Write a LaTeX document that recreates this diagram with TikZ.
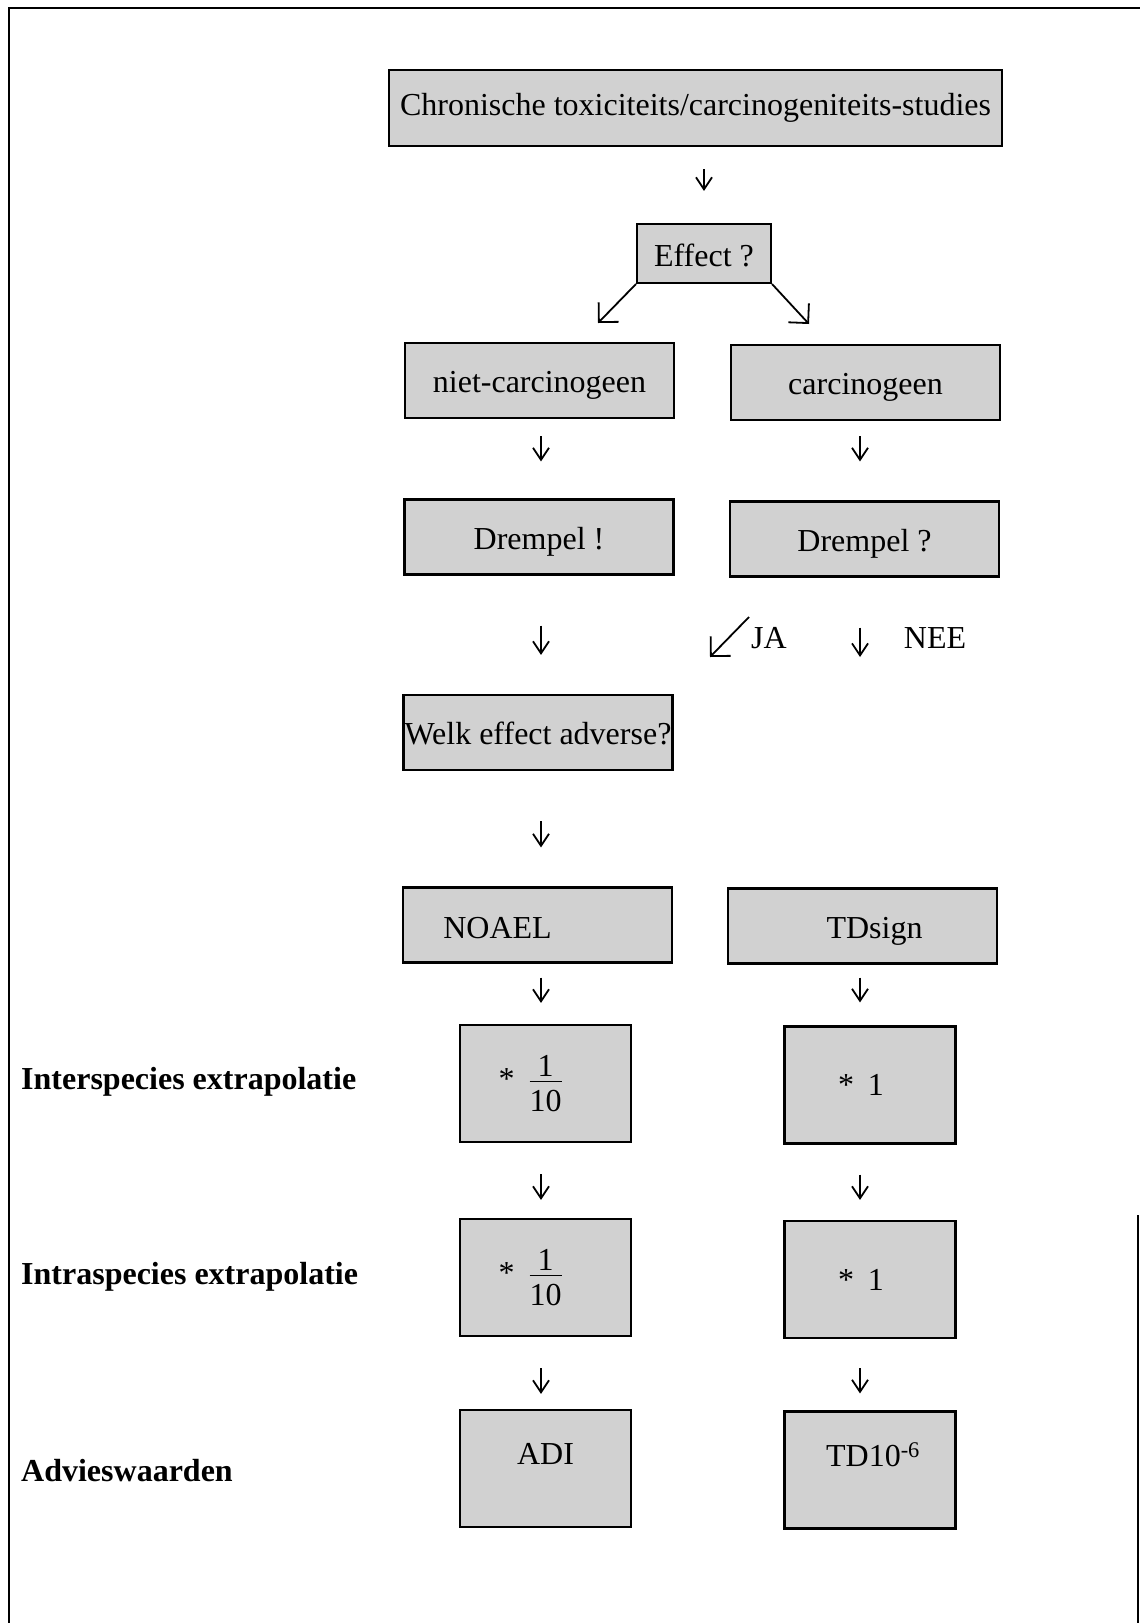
\documentclass[tikz,border=0pt]{standalone}
\usepackage{amsmath}
\usepackage{fontspec}
\setmainfont{Liberation Serif}
\usetikzlibrary{arrows.meta}

% one tenth, stacked by hand
\newcommand{\tenth}{\ensuremath{\vcenter{\halign{\hfil##\hfil\cr 1\cr\noalign{\kern5pt\hrule height 1.2pt\kern8pt}10\cr}}}}

\begin{document}
\begin{tikzpicture}[x=1pt, y=-1pt,
    box/.style={draw, line width=2.2pt, fill=black!18, inner sep=0pt, font=\fontsize{32}{38}\selectfont},
    wide/.style={box, minimum width=269pt, minimum height=75pt, text height=24pt, text depth=0pt},
    square/.style={box, minimum width=171pt, minimum height=117pt},
    lbl/.style={inner sep=0pt, font=\fontsize{32}{38}\selectfont},
    side/.style={anchor=west, inner sep=0pt, font=\fontsize{32}{38}\selectfont\bfseries},
    flow/.style={-{Straight Barb[length=12pt,width=16pt]}, line width=1.8pt},
    split/.style={-{Straight Barb[length=14pt,width=28pt]}, line width=1.8pt}]
  \useasboundingbox (0,0) rectangle (1140,1623);
  % Frame
  \draw[line width=2.4pt] (9,1623) -- (9,8) -- (1140,8);
  \draw[line width=2.4pt] (1138,1215) -- (1138,1623);
  % Studies and effect
  \node[box, minimum width=613pt, minimum height=76pt] (studies) at (695.5,108) {Chronische toxiciteits/carcinogeniteits-studies};
  \node[box, minimum width=134pt, minimum height=59pt, text height=26pt, text depth=0pt] (effect) at (704,253.5) {Effect ?};
  % Two branches
  \node[wide] (nietcarc) at (539.5,380.5) {niet-carcinogeen};
  \node[wide] (carc) at (865.5,382.5) {carcinogeen};
  \node[wide] (drempelja) at (539,537) {Drempel !};
  \node[wide] (drempelvraag) at (864.5,539) {Drempel ?};
  \node[lbl] (ja) at (769,638) {JA};
  \node[lbl] (nee) at (935,638) {NEE};
  \node[wide] (adverse) at (538,732.5) {\makebox[0pt]{Welk effect adverse?}};
  \node[wide, label={[lbl, xshift=-40pt, yshift=-3pt]center:NOAEL}] (noael) at (537.5,925) {};
  \node[wide, label={[lbl, xshift=12pt, yshift=-5pt]center:TDsign}] (tdsign) at (862.5,926) {};
  % Extrapolation
  \node[square] (inter1) at (545.5,1083.5) {\llap{*\hspace{15pt}}\tenth};
  \node[square] (inter2) at (870,1085) {\makebox[0pt]{\hspace{12pt}\llap{*\hspace{14pt}}1}};
  \node[square] (intra1) at (545.5,1277.5) {\llap{*\hspace{15pt}}\tenth};
  \node[square] (intra2) at (870,1279.5) {\makebox[0pt]{\hspace{12pt}\llap{*\hspace{14pt}}1}};
  \node[square, label={[lbl, yshift=15pt]center:ADI}] (adi) at (545.5,1468.5) {};
  \node[square, label={[lbl, xshift=3pt, yshift=15pt]center:{TD10\textsuperscript{-6}}}] (tdmin) at (870,1470) {};
  % Row labels
  \node[side] (inter) at (21,1082) {Interspecies extrapolatie};
  \node[side] (intra) at (21,1277) {Intraspecies extrapolatie};
  \node[side] (advies) at (21,1471) {Advieswaarden};
  % Arrows
  \coordinate (colL) at (541,0);
  \coordinate (colR) at (860,0);
  \coordinate (split-l) at (598,323);
  \coordinate (split-r) at (809,324);
  \coordinate (ja-from) at (749,617);
  \coordinate (ja-to) at (710,657);
  \coordinate (nee-to) at (860,657);
  \draw[flow, shorten <=22pt, shorten >=32pt] (effect.north |- studies.south) -- (effect.north);
  \draw[split] (effect.south west) -- (split-l);
  \draw[split] (effect.south east) -- (split-r);
  \draw[flow, shorten <=17pt, shorten >=37pt] (colL |- nietcarc.south) -- (colL |- drempelja.north);
  \draw[flow, shorten <=15pt, shorten >=39pt] (colR |- carc.south) -- (colR |- drempelvraag.north);
  \draw[flow, shorten <=50pt, shorten >=39pt] (colL |- drempelja.south) -- (colL |- adverse.north);
  \draw[split] (ja-from) -- (ja-to);
  \draw[flow, shorten <=50pt] (colR |- drempelvraag.south) -- (nee-to);
  \draw[flow, shorten <=50pt, shorten >=39pt] (colL |- adverse.south) -- (colL |- noael.north);
  \draw[flow, shorten <=14pt, shorten >=21pt] (colL |- noael.south) -- (colL |- inter1.north);
  \draw[flow, shorten <=13pt, shorten >=23pt] (colR |- tdsign.south) -- (colR |- inter2.north);
  \draw[flow, shorten <=31pt, shorten >=18pt] (colL |- inter1.south) -- (colL |- intra1.north);
  \draw[flow, shorten <=30pt, shorten >=20pt] (colR |- inter2.south) -- (colR |- intra2.north);
  \draw[flow, shorten <=31pt, shorten >=15pt] (colL |- intra1.south) -- (colL |- adi.north);
  \draw[flow, shorten <=29pt, shorten >=17pt] (colR |- intra2.south) -- (colR |- tdmin.north);
\end{tikzpicture}
\end{document}
